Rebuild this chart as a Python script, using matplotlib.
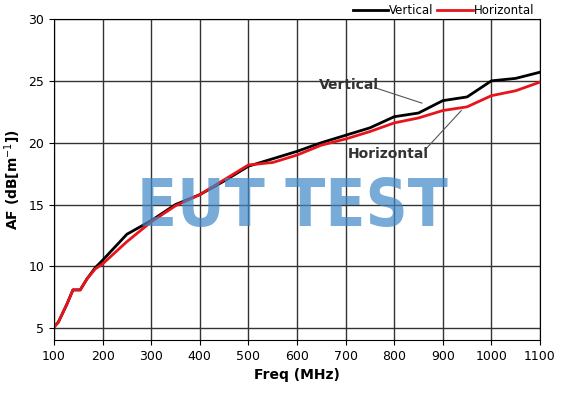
import matplotlib
matplotlib.use("Agg")
import matplotlib.pyplot as plt

freq_v = [100,109,126,139,154,168,185,200,250,300,350,400,450,500,550,600,650,700,750,800,850,900,950,1000,1050,1100]
af_v   = [5.1,5.5,6.9,8.1,8.1,9.0,9.9,10.5,12.6,13.7,15.0,15.8,16.9,18.1,18.7,19.3,20.0,20.6,21.2,22.1,22.4,23.4,23.7,25.0,25.2,25.7]
freq_h = [100,109,126,139,154,168,185,200,250,300,350,400,450,500,550,600,650,700,750,800,850,900,950,1000,1050,1100]
af_h   = [5.1,5.5,6.9,8.1,8.1,9.0,9.8,10.2,12.0,13.6,14.9,15.8,17.0,18.2,18.4,19.0,19.8,20.3,20.9,21.6,22.0,22.6,22.9,23.8,24.2,24.9]
xticks = list(range(100,1101,100))
yticks = [5,10,15,20,25,30]

fig = plt.figure(figsize=(5.72,4.12), dpi=100)
ax = fig.add_axes([54/572, 1-340/412, (540-54)/572, (340-19)/412])
ax.plot(freq_v, af_v, color='black', lw=2, label='Vertical')
ax.plot(freq_h, af_h, color='#e8141c', lw=2, label='Horizontal')
ax.set_xlim(100,1100); ax.set_ylim(4.05,30)
ax.set_xticks(xticks); ax.set_yticks(yticks)
ax.grid(True, color='#333333', lw=1)
ax.tick_params(labelsize=9)
ax.set_xlabel('Freq (MHz)', fontsize=10, fontweight='bold')
ax.set_ylabel('AF (dB[m$^{-1}$])', fontsize=10, fontweight='bold')
ax.text(645, 24.7, 'Vertical', fontsize=10, fontweight='bold', color='#333333', va='center')
ax.plot([760, 857], [24.45, 23.2], color='#555555', lw=0.8)
ax.text(705, 19.1, 'Horizontal', fontsize=10, fontweight='bold', color='#333333', va='center')
ax.plot([863, 938], [19.4, 22.6], color='#555555', lw=0.8)
ax.text(0.49, 0.41, 'EUT TEST', transform=ax.transAxes, fontsize=47, color='#3f88c8', alpha=0.7,
        ha='center', va='center', family='DejaVu Sans', fontweight='bold', fontstretch='condensed')
fig.legend(loc='upper right', bbox_to_anchor=(545/572, 1.015), ncol=2, frameon=False, fontsize=8.5,
           handlelength=3, columnspacing=0.3, handletextpad=0.1)
fig.savefig('out.png', dpi=100)
